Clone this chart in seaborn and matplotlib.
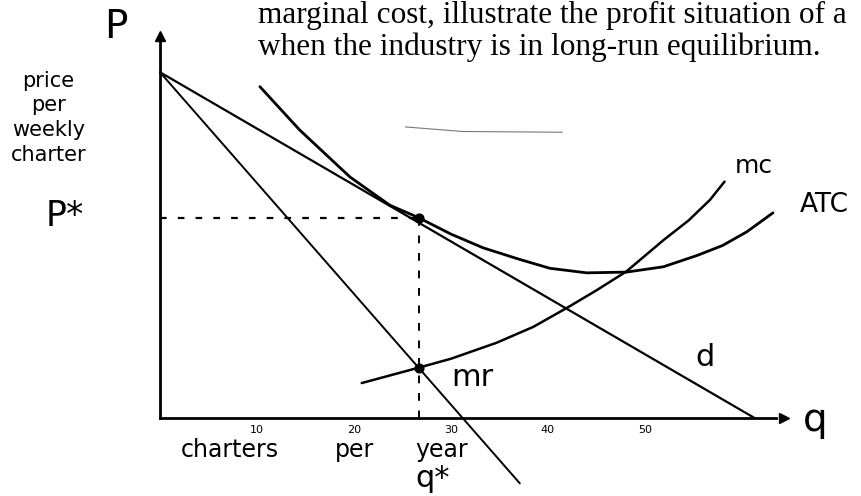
import matplotlib

matplotlib.use("Agg")

import matplotlib.pyplot as plt
import numpy as np
import pandas as pd
import seaborn as sns

# curves (q = charters per year, p = price per weekly charter)
demand_q = [0.0, 61.3]
demand_p = [45.5, 0.0]

mr_q = [0.0, 37.1]
mr_p = [45.5, -8.6]

atc_q = [10.3, 14.4, 19.6, 23.7, 26.6, 30.0, 33.3, 37.0, 40.2, 44.0, 48.1, 51.9, 55.4, 58.0, 60.5, 63.2]
atc_p = [43.6, 37.9, 31.7, 28.0, 26.4, 24.2, 22.4, 20.9, 19.7, 19.1, 19.2, 19.9, 21.4, 22.7, 24.5, 27.0]

mc_q = [20.8, 26.6, 30.0, 34.7, 38.5, 42.1, 45.0, 48.1, 51.9, 54.5, 56.7, 58.2]
mc_p = [4.6, 6.6, 7.8, 9.9, 12.0, 14.6, 16.8, 19.3, 23.4, 26.0, 28.7, 31.1]

stray_q = [25.3, 31.2, 41.5]
stray_p = [38.3, 37.7, 37.6]

q_star = 26.7
p_star = 26.3
mr_at_q_star = 6.6

x_ticks = [10, 20, 30, 40, 50]
x_tick_labels = ["10", "20", "30", "40", "50"]
y_ticks = [10, 20, 30, 40]

sns.set_theme(style="white")
plt.rcParams["font.family"] = ["DejaVu Sans"]
plt.rcParams["text.color"] = "black"

fig = plt.figure(figsize=(8.61, 4.96), dpi=100)
ax = fig.add_axes([0, 0, 1, 1])
ax.set_facecolor("white")


def draw(qs, ps, lw, color="black"):
    frame = pd.DataFrame({"q": qs, "p": ps})
    sns.lineplot(data=frame, x="q", y="p", sort=False, color=color, linewidth=lw, ax=ax)


draw(demand_q, demand_p, 1.6)
draw(mr_q, mr_p, 1.4)
draw(atc_q, atc_p, 2.0)
draw(mc_q, mc_p, 1.8)
draw(stray_q, stray_p, 0.8, color="#777777")

# dashed guides to p* and q*
ax.plot([0, q_star], [p_star, p_star], color="black", lw=1.6, ls=(0, (3, 5)))
ax.plot([q_star, q_star], [p_star, 0], color="black", lw=1.4, ls=(0, (4, 5)))
ax.scatter([q_star, q_star], [p_star, mr_at_q_star], s=40, color="black", zorder=5)

ax.set_xlim(-16.49, 72.27)
ax.set_ylim(-10.26, 55.0)

for side in ["top", "right"]:
    ax.spines[side].set_visible(False)
ax.spines["left"].set_position(("data", 0))
ax.spines["bottom"].set_position(("data", 0))
ax.spines["left"].set_bounds(0, 49.5)
ax.spines["bottom"].set_bounds(0, 63.5)
for side in ["left", "bottom"]:
    ax.spines[side].set_linewidth(2.0)
    ax.spines[side].set_color("black")
ax.plot(64.3, 0, marker=">", ms=7, color="black", clip_on=False)
ax.plot(0, 50.3, marker="^", ms=7, color="black", clip_on=False)

ax.set_xticks(x_ticks)
ax.set_xticklabels(x_tick_labels, fontsize=8)
ax.set_yticks(y_ticks)
ax.set_yticklabels([])
ax.tick_params(axis="x", direction="in", length=4, width=1.2, pad=5, colors="black")
ax.tick_params(axis="y", direction="in", length=5, width=1.2, colors="black")
ax.set_xlabel("")
ax.set_ylabel("")
ax.grid(False)

# hand-written labels
ax.text(-4.5, 51.4, "P", fontsize=28, ha="center", va="center")
ax.text(-11.5, 39.5, "price\nper\nweekly\ncharter", fontsize=15, ha="center", va="center", linespacing=1.3)
ax.text(-9.8, 26.6, "P*", fontsize=25, ha="center", va="center")
ax.text(7.2, -4.2, "charters", fontsize=17, ha="center", va="center")
ax.text(20.1, -4.2, "per", fontsize=17, ha="center", va="center")
ax.text(29.0, -4.2, "year", fontsize=17, ha="center", va="center")
ax.text(28.1, -8.0, "q*", fontsize=22, ha="center", va="center")
ax.text(61.2, 33.2, "mc", fontsize=18, ha="center", va="center")
ax.text(68.5, 28.0, "ATC", fontsize=19, ha="center", va="center")
ax.text(56.2, 8.0, "d", fontsize=22, ha="center", va="center")
ax.text(32.2, 5.3, "mr", fontsize=22, ha="center", va="center")
ax.text(67.5, -0.3, "q", fontsize=28, ha="center", va="center")

# printed question text above the sketch
fig.text(0.2997, 1 - 23 / 496, "marginal cost, illustrate the profit situation of a",
         fontsize=22.5, family="Liberation Serif", va="baseline")
fig.text(0.2997, 1 - 55 / 496, "when the industry is in long-run equilibrium.",
         fontsize=22.5, family="Liberation Serif", va="baseline")

fig.savefig("out.png", dpi=100)
